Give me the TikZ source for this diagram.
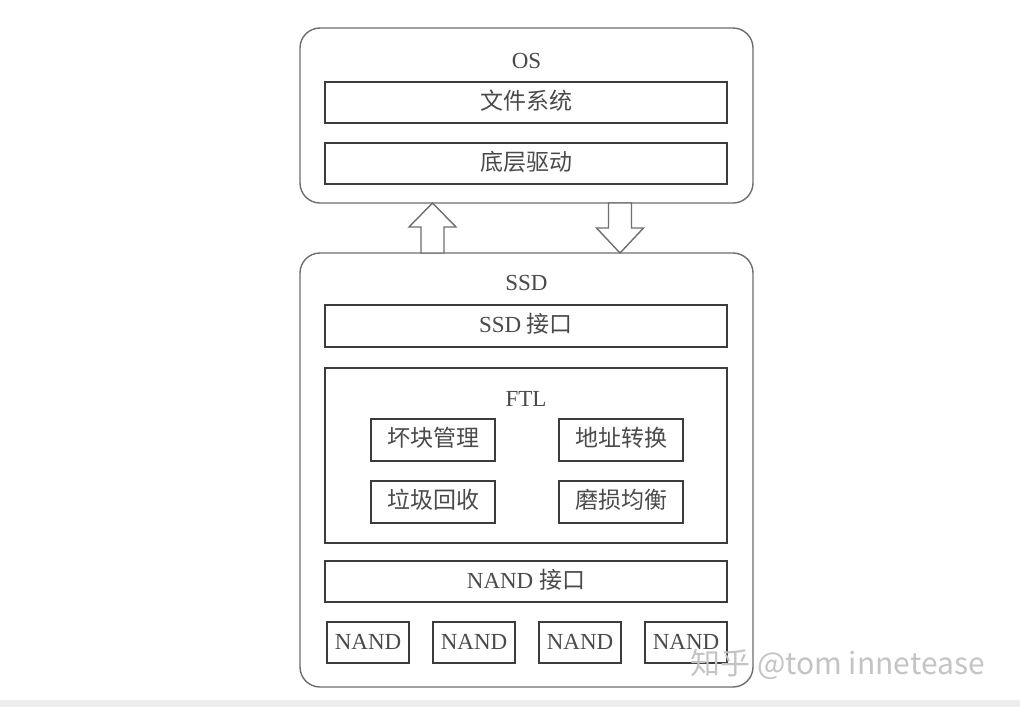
\documentclass[tikz,border=0pt]{standalone}
\usepackage{fontspec}
\setmainfont{Liberation Serif}
\newfontfamily\cjk{Noto Sans CJK SC}
\newfontfamily\wmfont{Noto Sans CJK SC}
\usetikzlibrary{matrix,positioning,calc}

\definecolor{boxline}{HTML}{3C3C3C}
\definecolor{outline}{HTML}{6E6E6E}
\definecolor{txt}{HTML}{4A4A4A}
\definecolor{wm}{HTML}{C4C4C4}
\definecolor{band}{HTML}{EDEDED}

\tikzset{
	layer/.style={draw=outline, line width=0.7pt, rounded corners=10pt, minimum width=226.5pt, anchor=north west, inner sep=0pt, outer sep=0pt},
	bar/.style={draw=boxline, line width=1pt, minimum width=201pt, minimum height=20.5pt, inner sep=0pt, outer sep=0pt, text=txt},
	cell/.style={draw=boxline, line width=1pt, minimum width=62pt, minimum height=21pt, inner sep=0pt, outer sep=0pt, text=txt},
	chip/.style={draw=boxline, line width=1pt, minimum width=41pt, minimum height=20.5pt, inner sep=0pt, outer sep=0pt, text=txt},
	title/.style={text=txt, inner sep=0pt},
	hollow/.style={draw=outline, line width=0.7pt, fill=white, line join=miter},
}

\begin{document}
\begin{tikzpicture}[x=0.5pt, y=-0.5pt, font=\fontsize{11.5}{13.8}\selectfont,
		every node/.append style={text height=0.75em, text depth=0.1em}]
		\fill[white] (0,0) rectangle (1020,707);
		\useasboundingbox (0,0) rectangle (1020,707);
		\fill[band] (0,700) rectangle (1020,707);

		\node[layer, minimum height=87.5pt] (os) at (300,28) {};
		\node[title] (ostitle) at (526.5,62) {OS};
		\node[bar] (fs) at (526,102.5) {\cjk 文件系统};
		\node[bar] (drv) at (526,163.5) {\cjk 底层驱动};

		\node[layer, minimum height=217pt] (ssd) at (300,253) {};
		\node[title] (ssdtitle) at (526.5,284) {SSD};
		\node[bar, minimum height=21pt] (ssdif) at (526,326) {SSD {\cjk 接口}};

		\node[draw=boxline, line width=1pt, minimum width=201pt, minimum height=87.5pt, inner sep=0pt, anchor=north] (ftl) at (526,367) {};
		\node[title] (ftltitle) at (526,400) {FTL};
		\matrix (f)[matrix of nodes, column sep=31pt, row sep=9pt, inner sep=0pt,
					nodes={cell, anchor=center}] at (527,470.5)
		{
		\cjk 坏块管理 & \cjk 地址转换 \\
		\cjk 垃圾回收 & \cjk 磨损均衡 \\
		};

		\node[bar] (nandif) at (526,581.5) {NAND {\cjk 接口}};
		\matrix (n)[matrix of nodes, column sep=11pt, inner sep=0pt,
					nodes={chip, anchor=center}] at (527,642.5)
		{
		NAND & NAND & NAND & NAND \\
		};

		\coordinate (upx) at (432.5,0);
		\coordinate (dnx) at (620,0);
		\draw[hollow] ($(ssd.north -| upx)+(-11.5,0)$) -- ++(0,-26) -- ++(-12,0) -- (os.south -| upx) -- ++(23.5,24) -- ++(-12,0) -- ++(0,26) -- cycle;
		\draw[hollow] ($(os.south -| dnx)+(-11.5,0)$) -- ++(0,25) -- ++(-12,0) -- (ssd.north -| dnx) -- ++(23.5,-25) -- ++(-12,0) -- ++(0,-25) -- cycle;

		\node[text=wm, font=\wmfont\fontsize{15}{18}\selectfont, inner sep=0pt] (mark) at (837.5,668) {知乎 @tom innetease};
	\end{tikzpicture}
\end{document}
